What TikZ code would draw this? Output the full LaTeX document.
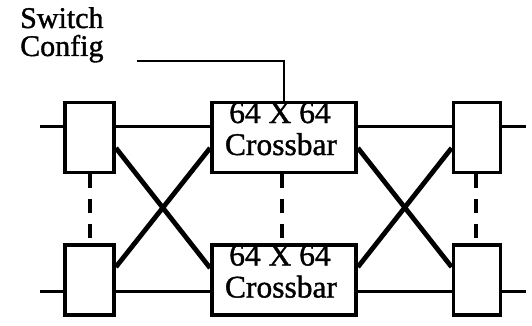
\documentclass[tikz,border=0pt]{standalone}
\usepackage{fontspec}
\setmainfont{Liberation Serif}
\newfontfamily\inkfont{Liberation Serif}[FakeBold=1.2]
\usetikzlibrary{calc}
\begin{document}
\begin{tikzpicture}[x=1pt,y=-1pt,
  portbox/.style={draw,line width=3.8pt,minimum width=49pt,minimum height=70pt,inner sep=0pt},
  xbarbox/.style={draw,line width=3.8pt,minimum width=144pt,minimum height=70pt,inner sep=0pt},
  xbartext/.style={anchor=base,inner sep=0pt,font=\inkfont\fontsize{31.5}{32}\selectfont},
  cfgtext/.style={anchor=base west,inner sep=0pt,font=\inkfont\fontsize{30}{30}\selectfont},
  link/.style={line width=3pt},
  cross/.style={line width=4.8pt},
  stack/.style={line width=4pt,dash pattern=on 14pt off 11pt},
  cfgline/.style={line width=2.6pt}]
\useasboundingbox (0,0) rectangle (532,326);

% switch boxes, upper and lower plane
\node[portbox] (lt) at (89.5,137.5) {};
\node[xbarbox] (xt) at (284,137.5) {};
\node[portbox,minimum width=47pt] (rt) at (477,137.5) {};
\node[portbox] (lb) at (89.5,280) {};
\node[xbarbox] (xb) at (284,280) {};
\node[portbox,minimum width=47pt] (rb) at (477,280) {};

% crossbar labels
\node[xbartext] (xt1) at (280,123) {64 X 64};
\node[xbartext] (xt2) at (281,155) {Crossbar};
\node[xbartext] (xb1) at (280,265.5) {64 X 64};
\node[xbartext] (xb2) at (281,297.5) {Crossbar};

% configuration input
\node[cfgtext] (sw) at (20,28) {Switch};
\node[cfgtext] (cf) at (20,56) {Config};
\coordinate (cfgin) at (137,61);
\draw[cfgline] (cfgin) -| (xt.north);

% outer stubs
\coordinate (inT) at (40,126);
\coordinate (inB) at (40,291);
\coordinate (outT) at (526,126);
\coordinate (outB) at (526,291);
\draw[link] (inT) -- ([yshift=11.5pt]lt.west);
\draw[link] (inB) -- ([yshift=-11pt]lb.west);
\draw[link] ([yshift=11.5pt]rt.east) -- (outT);
\draw[link] ([yshift=-11pt]rb.east) -- (outB);

% straight links
\draw[link] ([yshift=11.5pt]lt.east) -- ([yshift=11.5pt]xt.west);
\draw[link] ([yshift=11.5pt]xt.east) -- ([yshift=11.5pt]rt.west);
\draw[link] ([yshift=-11pt]lb.east) -- ([yshift=-11pt]xb.west);
\draw[link] ([yshift=-11pt]xb.east) -- ([yshift=-11pt]rb.west);

% crossed links
\draw[cross] ([yshift=-10.5pt]lt.east) -- ([yshift=12pt]xb.west);
\draw[cross] ([yshift=13pt]lb.east) -- ([yshift=-10.5pt]xt.west);
\draw[cross] ([yshift=-10.5pt]xt.east) -- ([yshift=13pt]rb.west);
\draw[cross] ([yshift=13pt]xb.east) -- ([yshift=-10.5pt]rt.west);

% replicated planes
\draw[stack] (lt.south) -- (lb.north);
\draw[stack] ([xshift=-2pt]xt.south) -- ([xshift=-2pt]xb.north);
\draw[stack] ([xshift=-1pt]rt.south) -- ([xshift=-1pt]rb.north);
\end{tikzpicture}
\end{document}
